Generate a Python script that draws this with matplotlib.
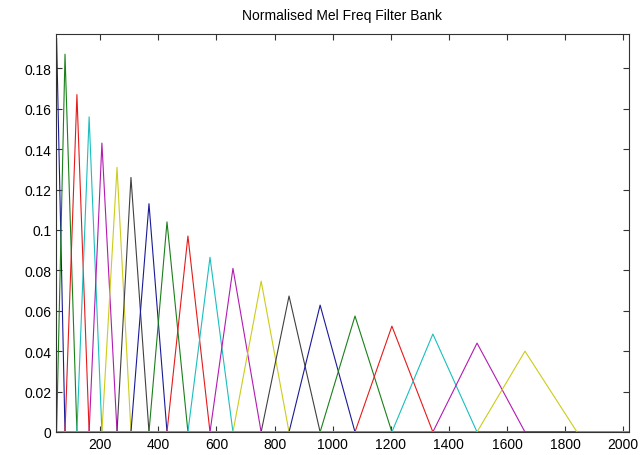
import matplotlib
matplotlib.use("Agg")
import matplotlib.pyplot as plt

plt.rcParams['font.family'] = ['Liberation Sans', 'DejaVu Sans']

# Centres des filtres (Hz); premier et dernier = bords
centres = [40, 50, 79, 120, 162, 206, 258, 306, 368, 430, 502, 578, 657,
           754, 850, 957, 1077, 1204, 1345, 1497, 1662, 1841]

# Hauteur du sommet de chaque filtre
hauteurs = [0.195, 0.187, 0.167, 0.156, 0.143, 0.131, 0.126, 0.113, 0.104,
            0.097, 0.0865, 0.081, 0.0747, 0.0673, 0.0628, 0.0574, 0.0524,
            0.0485, 0.044, 0.040]

x_min, x_max = 48, 2020
x_ticks = [200, 400, 600, 800, 1000, 1200, 1400, 1600, 1800, 2000]
y_ticks = [0, 0.02, 0.04, 0.06, 0.08, 0.1, 0.12, 0.14, 0.16, 0.18]
y_labels = ['0', '0.02', '0.04', '0.06', '0.08', '0.1', '0.12', '0.14', '0.16', '0.18']

# Ordre des couleurs de l'ancien MATLAB (un peu assombri comme sur l'image)
couleurs = [(0.1, 0.1, 0.6), (0.1, 0.5, 0.1), (0.9, 0.1, 0.1), (0.1, 0.75, 0.75),
            (0.7, 0.1, 0.7), (0.8, 0.8, 0.1), (0.25, 0.25, 0.25)]

fig = plt.figure(figsize=(6.41, 4.56), dpi=100)
ax = fig.add_axes([56 / 641, 23 / 456, 573 / 641, 398 / 456])

for i in range(len(hauteurs)):
    g, c, d = centres[i], centres[i + 1], centres[i + 2]
    xs = [min(x_min, g), g, c, d, x_max]
    ys = [0, 0, hauteurs[i], 0, 0]
    ax.plot(xs, ys, color=couleurs[i % 7], lw=0.8)

ax.set_xlim(x_min, x_max)
ax.set_ylim(0, 0.197)
ax.set_xticks(x_ticks)
ax.set_yticks(y_ticks)
ax.set_yticklabels(y_labels)
ax.tick_params(direction='in', top=True, right=True, labelsize=10,
               length=4, width=0.8, colors='#333333', labelcolor='black')
for s in ax.spines.values():
    s.set_color('#333333')
    s.set_linewidth(0.8)
ax.set_title('Normalised Mel Freq Filter Bank', fontsize=10, pad=11)

fig.savefig('out.png', dpi=100)
